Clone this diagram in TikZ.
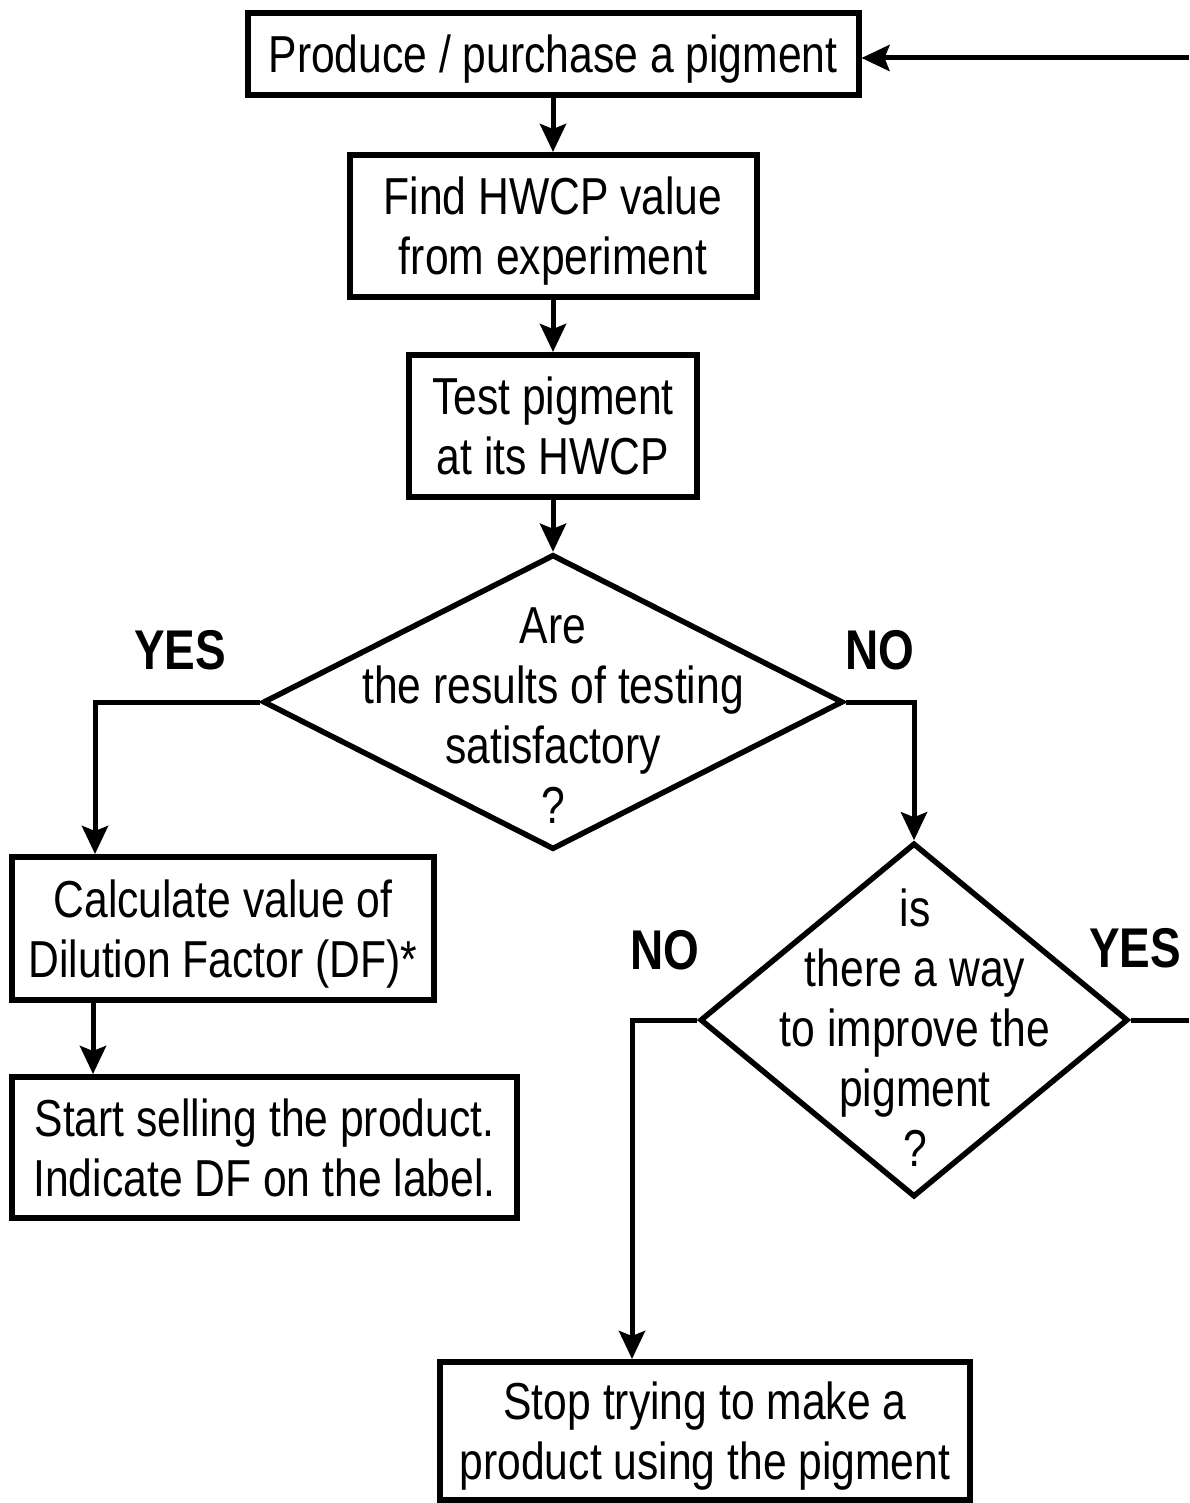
\documentclass[tikz,border=0pt]{standalone}
\usepackage{fontspec}
\setmainfont[FakeStretch=0.82]{Liberation Sans}
\usetikzlibrary{arrows.meta,shapes.geometric}

\tikzset{
  flowbox/.style={draw, line width=6pt, rectangle, inner sep=0pt, align=center,
    text depth=0pt, font=\fontsize{52}{60}\selectfont},
  decision/.style={draw, line width=5.5pt, diamond, inner sep=0pt},
  dtext/.style={align=center, inner sep=0pt, font=\fontsize{52}{60}\selectfont},
  answer/.style={inner sep=0pt, font=\fontsize{56}{60}\selectfont\bfseries},
  flow/.style={line width=5pt, -{Stealth[length=28pt,width=26pt,inset=5pt]}},
  plain/.style={line width=5pt}
}

\begin{document}
\begin{tikzpicture}[x=1pt,y=-1pt]
\useasboundingbox (0,0) rectangle (1189,1503);

% process boxes
\node[flowbox, minimum width=611pt, minimum height=82pt] (b1) at (553,54) {Produce / purchase a pigment};
\node[flowbox, minimum width=407pt, minimum height=142pt] (b2) at (553,226) {Find HWCP value\\from experiment};
\node[flowbox, minimum width=288pt, minimum height=142pt] (b3) at (553,426) {Test pigment\\at its HWCP};
\node[flowbox, minimum width=422pt, minimum height=143pt] (b4) at (223,928.5) {Calculate value of\\Dilution Factor (DF)*};
\node[flowbox, minimum width=505pt, minimum height=141pt] (b5) at (264.5,1147.5) {Start selling the product.\\Indicate DF on the label.};
\node[flowbox, minimum width=530pt, minimum height=138pt] (b6) at (705,1431) {Stop trying to make a\\product using the pigment};

% decisions
\node[decision, minimum width=580pt, minimum height=295pt] (d1) at (553,702) {};
\node[dtext] (d1t) at (553,716) {Are\\the results of testing\\satisfactory\\?};
\node[decision, minimum width=428pt, minimum height=354pt] (d2) at (914,1020) {};
\node[dtext] (d2t) at (915,1028) {is\\there a way\\to improve the\\pigment\\?};

% branch labels
\node[answer] (yes1) at (180,650) {YES};
\node[answer] (no1) at (880,650) {NO};
\node[answer] (no2) at (665,950) {NO};
\node[answer] (yes2) at (1135,948) {YES};

% loose ends of the feedback loop
\coordinate (loopout) at (1189,1020);
\coordinate (loopin) at (1189,58);

% connectors
\draw[flow] (b1.south) -- (b2.north);
\draw[flow] (b2.south) -- (b3.north);
\draw[flow] (b3.south) -- (d1.north);
\draw[flow] (d1.west) -| (b4.north -| 95,0);
\draw[flow] (b4.south -| 93,0) -- (b5.north -| 93,0);
\draw[flow] (d1.east) -| (d2.north);
\draw[flow] (d2.west) -| (b6.north -| 632,0);
\draw[plain] (d2.east) -- (loopout);
\draw[flow] (loopin) -- (b1.east |- loopin);
\end{tikzpicture}
\end{document}
